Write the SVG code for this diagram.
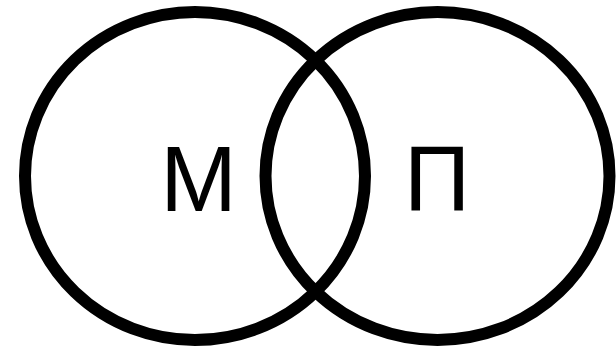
<svg xmlns="http://www.w3.org/2000/svg" width="616" height="354" viewBox="0 0 616 354">
<style>
.c{fill:none;stroke:#000;stroke-width:12}
.t{font-family:"Liberation Sans",Arial,sans-serif;font-size:92px;fill:#000;text-anchor:middle}
</style>
<rect width="616" height="354" fill="#fff"/>
<g id="set-m">
<ellipse class="c" cx="195" cy="176" rx="170" ry="164"/>
<text class="t" x="198.5" y="211">М</text>
</g>
<g id="set-p">
<ellipse class="c" cx="437.5" cy="176" rx="172" ry="164"/>
<text class="t" x="437" y="211">П</text>
</g>
<g id="connectors"></g>
</svg>
